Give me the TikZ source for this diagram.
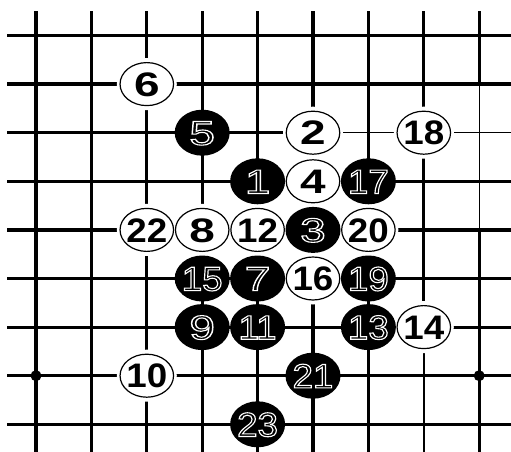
\documentclass[tikz,border=0pt]{standalone}
\usepackage{fontspec}
\usepackage{graphicx}
\usetikzlibrary{shapes.geometric}
\newfontfamily\stonefam{Liberation Sans}
\newcommand\whtfont{\stonefam\bfseries\fontsize{34}{34}\selectfont}
\newcommand\blkfont{\stonefam\fontsize{34}{34}\selectfont}
\newcommand\ctrtxt[1]{\makebox[0pt]{\raisebox{-0.358em}[0pt][0pt]{#1}}}
\newcommand\onedig[1]{\ctrtxt{\scalebox{1.35}[1]{#1}}}
\newcommand\twodig[1]{\ctrtxt{\scalebox{1.08}[1]{#1}}}
\newcommand\hollowtxt[1]{\special{pdf:literal direct 1 Tr 1.1 w}#1\special{pdf:literal direct 0 Tr}}
\newcommand\bone[1]{\ctrtxt{\scalebox{1.35}[1]{\hollowtxt{#1}}}}
\newcommand\btwo[1]{\ctrtxt{\scalebox{1.08}[1]{\hollowtxt{#1}}}}
\begin{document}
\begin{tikzpicture}[x=55.4pt, y=-48.6pt,
  gridline/.style={line width=3.2pt},
  thinline/.style={line width=1.4pt},
  midline/.style={line width=2.2pt},
  halo/.style={fill=white},
  wstone/.style={ellipse, draw=black, line width=1.2pt, fill=white,
    minimum width=53.5pt, minimum height=43pt, inner sep=0pt, font=\whtfont},
  bstone/.style={ellipse, fill=black, minimum width=55pt, minimum height=46pt,
    inner sep=0pt, font=\blkfont, text=white},
  starpt/.style={fill=black}]
\useasboundingbox (-36pt,35.5pt) rectangle (475pt,-416.5pt);
% grid
\foreach \c in {0,...,6} \draw[gridline] (\c,0) ++(0pt,24pt) -- (\c,8.6);
\draw[gridline] (7,0) ++(0pt,24pt) -- (7,6);
\draw[midline] (7,6) -- (7,8.6);
\draw[gridline] (8,0) ++(0pt,24pt) -- (8,1);
\draw[thinline] (8,1) -- (8,4);
\draw[gridline] (8,4) -- (8,8.6);
\foreach \r in {0,1,3,4,5,6,7,8} \draw[gridline] (0,\r) ++(-29pt,0pt) -- (8.6,\r);
\draw[gridline] (0,2) ++(-29pt,0pt) -- (5,2);
\draw[thinline] (5,2) -- (8.6,2);
% star points
\fill[starpt] (0,7) circle (5.5pt);
\fill[starpt] (8,7) circle (5.5pt);
% halos round white stones
\foreach \p in {(5,2),(5,3),(2,1),(3,4),(2,7),(4,4),(7,6),(5,5),(7,2),(6,4),(2,4)}
  \fill[halo] \p ellipse [x radius=30pt, y radius=26pt];
% white stones
\node[wstone] (w2)  at (5,2) {\onedig{2}};
\node[wstone] (w4)  at (5,3) {\onedig{4}};
\node[wstone] (w6)  at (2,1) {\onedig{6}};
\node[wstone] (w8)  at (3,4) {\onedig{8}};
\node[wstone] (w10) at (2,7) {\twodig{10}};
\node[wstone] (w12) at (4,4) {\twodig{12}};
\node[wstone] (w14) at (7,6) {\twodig{14}};
\node[wstone] (w16) at (5,5) {\twodig{16}};
\node[wstone] (w18) at (7,2) {\twodig{18}};
\node[wstone] (w20) at (6,4) {\twodig{20}};
\node[wstone] (w22) at (2,4) {\twodig{22}};
% black stones
\node[bstone] (b1)  at (4,3) {\bone{1}};
\node[bstone] (b3)  at (5,4) {\bone{3}};
\node[bstone] (b5)  at (3,2) {\bone{5}};
\node[bstone] (b7)  at (4,5) {\bone{7}};
\node[bstone] (b9)  at (3,6) {\bone{9}};
\node[bstone] (b11) at (4,6) {\btwo{11}};
\node[bstone] (b13) at (6,6) {\btwo{13}};
\node[bstone] (b15) at (3,5) {\btwo{15}};
\node[bstone] (b17) at (6,3) {\btwo{17}};
\node[bstone] (b19) at (6,5) {\btwo{19}};
\node[bstone] (b21) at (5,7) {\btwo{21}};
\node[bstone] (b23) at (4,8) {\btwo{23}};
\end{tikzpicture}
\end{document}
